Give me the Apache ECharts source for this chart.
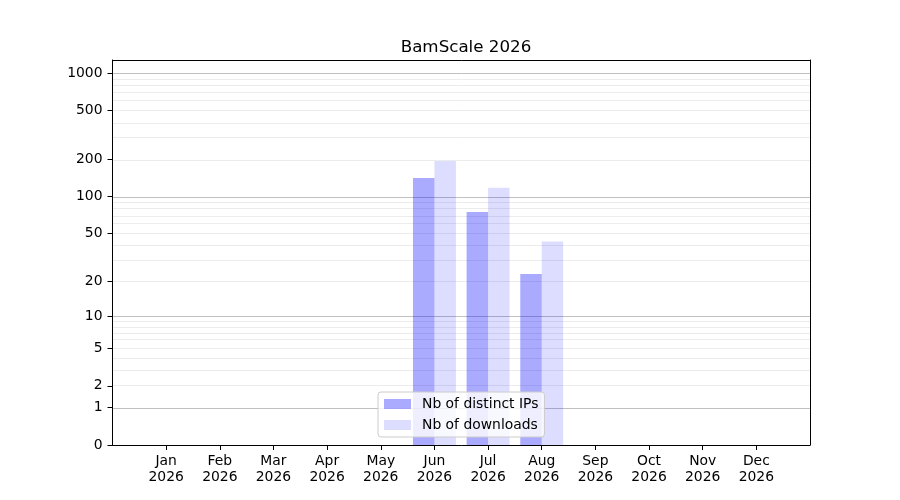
<!DOCTYPE html>
<html>
<head>
<meta charset="utf-8">
<script src="https://cdn.jsdelivr.net/npm/echarts@6/dist/echarts.min.js"></script>
<style>
  html, body { margin: 0; padding: 0; background: #fff; }
  #chart { width: 900px; height: 500px; }
</style>
</head>
<body>
<div id="chart"></div>
<script>
const months = ['Jan','Feb','Mar','Apr','May','Jun','Jul','Aug','Sep','Oct','Nov','Dec'];
const yearLabel = '2026';
const distinctIPs = [0,0,0,0,0,142,75,23,0,0,0,0];
const downloads   = [0,0,0,0,0,195,118,43,0,0,0,0];
const yTickLabels = [0,1,2,5,10,20,50,100,200,500,1000];
const majorGrid = [1,10,100,1000];
const minorGrid = [2,3,4,5,6,7,8,9,20,30,40,50,60,70,80,90,200,300,400,500,600,700,800,900];
const yTop = 1280;

// log10(1 + x) scale (function scale as in the reference)
const fwd = v => Math.log10(1 + v);

const FONT = 'DejaVu Sans';
const chart = echarts.init(document.getElementById('chart'), null, {renderer: 'canvas'});

const yTickPos = yTickLabels.map(fwd);
const monthIdx = months.map((m, i) => i);

const gridLines = [];
minorGrid.forEach(v => gridLines.push({yAxis: fwd(v), lineStyle: {color: '#ececec', width: 1, type: 'solid'}}));
majorGrid.forEach(v => gridLines.push({yAxis: fwd(v), lineStyle: {color: '#c0c0c0', width: 1, type: 'solid'}}));

const frameAxis = {
  axisLine: {show: true, onZero: false, lineStyle: {color: '#000', width: 1}},
  axisTick: {show: false}, axisLabel: {show: false}, splitLine: {show: false}, z: 10
};

chart.setOption({
  animation: false,
  backgroundColor: '#fff',
  textStyle: {fontFamily: FONT},
  title: {
    text: 'BamScale 2026',
    left: 461, top: 34, textAlign: 'center',
    textStyle: {fontFamily: FONT, fontSize: 16.7, fontWeight: 'normal', color: '#000'}
  },
  legend: {
    orient: 'vertical',
    left: 378, top: 392,
    padding: [5, 6, 5, 6],
    itemWidth: 27, itemHeight: 10, itemGap: 7,
    icon: 'rect',
    backgroundColor: 'rgba(255,255,255,0.8)',
    borderColor: '#cccccc', borderWidth: 1, borderRadius: 3,
    textStyle: {fontFamily: FONT, fontSize: 13.9, color: '#000', padding: [0,0,0,6]},
    data: ['Nb of distinct IPs', 'Nb of downloads'],
    z: 20
  },
  grid: {
    left: 112.5, right: 90, top: 60, bottom: 55, show: false
  },
  xAxis: [{
    type: 'value', min: -1, max: 12, interval: 1, z: 10,
    axisLine: {show: true, onZero: false, lineStyle: {color: '#000', width: 1}},
    axisTick: {show: true, length: 5, customValues: monthIdx, lineStyle: {color: '#000', width: 1}},
    axisLabel: {
      customValues: monthIdx,
      formatter: v => months[Math.round(v)] + '\n' + yearLabel,
      fontFamily: FONT, fontSize: 13.9, color: '#000', lineHeight: 16, margin: 8
    },
    splitLine: {show: false}
  }, Object.assign({type: 'value', position: 'top', min: -1, max: 12}, frameAxis)],
  yAxis: [{
    type: 'value', min: 0, max: fwd(yTop), z: 10,
    axisLine: {show: true, onZero: false, lineStyle: {color: '#000', width: 1}},
    axisTick: {show: true, length: 5, customValues: yTickPos, lineStyle: {color: '#000', width: 1}},
    axisLabel: {
      customValues: yTickPos,
      formatter: v => {
        let best = 0;
        yTickPos.forEach((p, i) => { if (Math.abs(p - v) < Math.abs(yTickPos[best] - v)) best = i; });
        return String(yTickLabels[best]);
      },
      fontFamily: FONT, fontSize: 13.9, color: '#000', margin: 10
    },
    splitLine: {show: false}
  }, Object.assign({type: 'value', position: 'right', min: 0, max: fwd(yTop)}, frameAxis)],
  series: [
    {
      name: 'grid', type: 'line', data: [], silent: true, z: 1,
      markLine: {silent: true, symbol: 'none', z: 1, label: {show: false}, emphasis: {disabled: true}, data: gridLines}
    },
    {
      name: 'Nb of distinct IPs', type: 'bar', z: 2,
      barWidth: 21.46, barGap: '0%',
      itemStyle: {color: 'rgba(0,0,255,0.333)'},
      data: distinctIPs.map((v, i) => [i, fwd(v)])
    },
    {
      name: 'Nb of downloads', type: 'bar', z: 2,
      barWidth: 21.46, barGap: '0%',
      itemStyle: {color: 'rgba(0,0,255,0.135)'},
      data: downloads.map((v, i) => [i, fwd(v)])
    }
  ]
});
</script>
</body>
</html>
